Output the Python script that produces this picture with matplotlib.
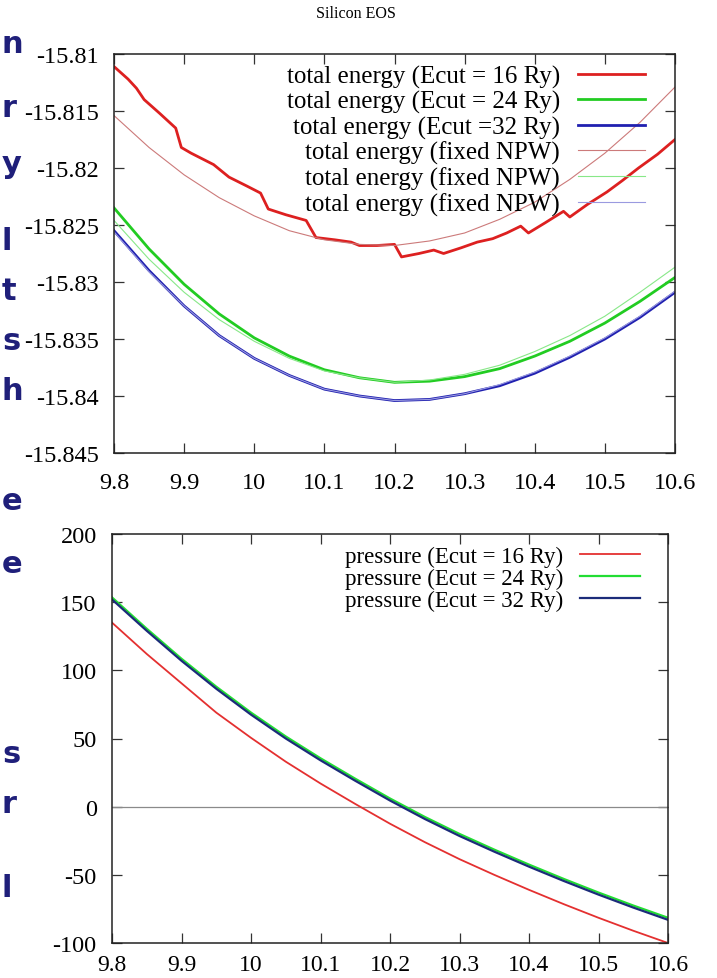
import matplotlib
matplotlib.use('Agg')
import matplotlib.pyplot as plt

plt.rcParams['font.family'] = 'Liberation Serif'
plt.rcParams['axes.unicode_minus'] = False

# lattice parameter grid (a.u.)
alat = [9.80, 9.85, 9.90, 9.95, 10.00, 10.05, 10.10, 10.15, 10.20,
        10.25, 10.30, 10.35, 10.40, 10.45, 10.50, 10.55, 10.60]

# total energy, Ecut = 16 Ry (jagged, read on a finer grid)
alat_16 = [9.800, 9.820, 9.832, 9.843, 9.865, 9.888, 9.896, 9.910, 9.942, 9.964,
           9.990, 10.009, 10.020, 10.045, 10.074, 10.088, 10.115, 10.138, 10.150, 10.175,
           10.200, 10.210, 10.235, 10.256, 10.270, 10.295, 10.318, 10.340, 10.360, 10.380,
           10.391, 10.415, 10.441, 10.450, 10.475, 10.503, 10.525, 10.548, 10.575, 10.600]
etot_16 = [-15.8111, -15.8122, -15.8130, -15.8140, -15.8152, -15.8165, -15.8182, -15.8187, -15.8197, -15.8208,
           -15.8216, -15.8222, -15.8236, -15.8241, -15.8246, -15.8261, -15.8263, -15.8265, -15.8268, -15.8268,
           -15.8267, -15.8278, -15.8275, -15.8272, -15.8275, -15.8270, -15.8265, -15.8262, -15.8257, -15.8251,
           -15.8257, -15.8248, -15.8238, -15.8243, -15.8232, -15.8221, -15.8211, -15.8200, -15.8188, -15.8175]

etot_24 = [-15.8235, -15.8271, -15.8302, -15.8328, -15.8349, -15.8365, -15.8377, -15.8384, -15.8388,
           -15.8387, -15.8383, -15.8376, -15.8365, -15.8352, -15.8336, -15.8317, -15.8296]
etot_32 = [-15.8255, -15.8290, -15.8321, -15.8347, -15.8367, -15.8382, -15.8394, -15.8400, -15.8404,
           -15.8403, -15.8398, -15.8391, -15.8380, -15.8366, -15.8350, -15.8331, -15.8309]

# total energy at fixed number of plane waves
enpw_16 = [-15.8154, -15.8182, -15.8206, -15.8226, -15.8242, -15.8255, -15.8263, -15.8267, -15.8268,
           -15.8264, -15.8257, -15.8245, -15.8230, -15.8210, -15.8187, -15.8160, -15.8129]
enpw_24 = [-15.8246, -15.8280, -15.8309, -15.8333, -15.8352, -15.8367, -15.8378, -15.8384, -15.8388,
           -15.8386, -15.8381, -15.8373, -15.8361, -15.8347, -15.8330, -15.8309, -15.8287]
enpw_32 = [-15.8256, -15.8291, -15.8321, -15.8347, -15.8367, -15.8382, -15.8394, -15.8400, -15.8404,
           -15.8403, -15.8398, -15.8390, -15.8379, -15.8365, -15.8349, -15.8330, -15.8308]

# pressure (kbar)
pres_16 = [135, 112, 90.5, 69, 50.5, 33, 17, 2, -12.5,
           -26, -38.5, -50, -61, -71.5, -81.5, -91, -100]
pres_24 = [153.5, 130.5, 108.5, 88, 69, 51.5, 35.5, 20.5, 6,
           -7.5, -20, -31.5, -42.5, -53, -63, -72.5, -81.5]
pres_32 = [152, 129, 107, 86.5, 67.5, 50, 34, 19, 4.5,
           -9, -21.5, -33, -44, -54.5, -64.5, -74, -83]

xticks = [9.8, 9.9, 10.0, 10.1, 10.2, 10.3, 10.4, 10.5, 10.6]
xticklabels = ['9.8', '9.9', '10', '10.1', '10.2', '10.3', '10.4', '10.5', '10.6']
e_ticks = [-15.81, -15.815, -15.82, -15.825, -15.83, -15.835, -15.84, -15.845]
e_ticklabels = ['-15.81', '-15.815', '-15.82', '-15.825', '-15.83', '-15.835', '-15.84', '-15.845']
p_ticks = [200, 150, 100, 50, 0, -50, -100]
p_ticklabels = ['200', '150', '100', '50', '0', '-50', '-100']

# cut-off slide text on the left edge
side_chars = ['n', 'r', 'y', 'l', 't', 's', 'h', 'e', 'e', 's', 'r', 'l']
side_base = [53, 117, 173, 250, 300, 350, 400, 510, 573, 763, 813, 897]

W, H = 717, 979
fig = plt.figure(figsize=(W / 100, H / 100), dpi=100)

ax1 = fig.add_axes([114 / W, 1 - 454 / H, 561 / W, 399 / H])
ax2 = fig.add_axes([112 / W, 1 - 944 / H, 556 / W, 409 / H])

ax1.plot(alat_16, etot_16, color='#dd2020', lw=2.0, label='total energy (Ecut = 16 Ry)')
ax1.plot(alat, etot_24, color='#22cc22', lw=2.0, label='total energy (Ecut = 24 Ry)')
ax1.plot(alat, etot_32, color='#2020b0', lw=2.0, label='total energy (Ecut =32 Ry)')
ax1.plot(alat, enpw_16, color='#cc7a7a', lw=0.8, label='total energy (fixed NPW)')
ax1.plot(alat, enpw_24, color='#88e888', lw=0.8, label='total energy (fixed NPW)')
ax1.plot(alat, enpw_32, color='#9a9ae0', lw=0.8, label='total energy (fixed NPW)')
ax1.set_xlim(9.8, 10.6)
ax1.set_ylim(-15.845, -15.81)
ax1.set_yticks(e_ticks)
ax1.set_yticklabels(e_ticklabels)

ax2.axhline(0, color='#8a8a8a', lw=0.9)
ax2.plot(alat, pres_16, color='#e43030', lw=1.3, label='pressure (Ecut = 16 Ry)')
ax2.plot(alat, pres_24, color='#22dd33', lw=1.6, label='pressure (Ecut = 24 Ry)')
ax2.plot(alat, pres_32, color='#1c2c7a', lw=1.6, label='pressure (Ecut = 32 Ry)')
ax2.set_xlim(9.8, 10.6)
ax2.set_ylim(-100, 200)
ax2.set_yticks(p_ticks)
ax2.set_yticklabels(p_ticklabels)

for ax in (ax1, ax2):
    ax.set_xticks(xticks)
    ax.set_xticklabels(xticklabels)
    ax.tick_params(direction='in', top=True, right=True, length=7, width=0.9,
                   labelsize=17.5, color='#333333')
    ax.tick_params(axis='y', pad=11)
    for s in ax.spines.values():
        s.set_linewidth(1.1)
        s.set_color('#222222')
ax1.tick_params(axis='x', pad=14)
ax2.tick_params(axis='x', pad=8, labelsize=17)

ax1.legend(loc='upper right', bbox_to_anchor=(645 / W, 1 - 66 / H),
           bbox_transform=fig.transFigure, frameon=False, markerfirst=False,
           fontsize=18, borderpad=0, borderaxespad=0, labelspacing=0.09,
           handlelength=2.7, handletextpad=0.7)
ax2.legend(loc='upper right', bbox_to_anchor=(640 / W, 1 - 547 / H),
           bbox_transform=fig.transFigure, frameon=False, markerfirst=False,
           fontsize=16.5, borderpad=0, borderaxespad=0, labelspacing=0.04,
           handlelength=2.6, handletextpad=0.75)

fig.text(356 / W, 1 - 14 / H, 'Silicon EOS', ha='center', va='center', fontsize=11.5)

for ch, yb in zip(side_chars, side_base):
    fig.text(2 / W, 1 - yb / H, ch, ha='left', va='baseline', fontsize=22,
             fontweight='bold', color='#1f1f7a', family='DejaVu Sans')

fig.savefig('out.png', dpi=100)
